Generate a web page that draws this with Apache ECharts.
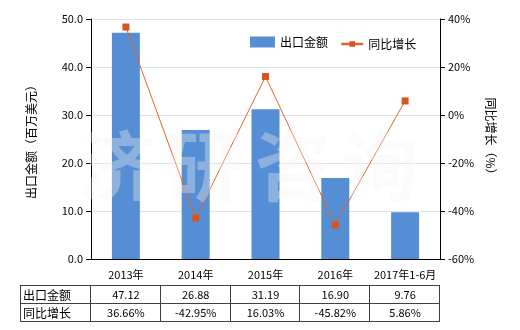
<!DOCTYPE html>
<html><head><meta charset="utf-8">
<script src="https://cdn.jsdelivr.net/npm/echarts@6/dist/echarts.min.js"></script>
<style>html,body{margin:0;padding:0;background:#fff}#c{width:520px;height:330px}</style>
</head><body><div id="c"></div>
<script>
const categories = ['2013年','2014年','2015年','2016年','2017年1-6月'];
const exportValues = [47.12, 26.88, 31.19, 16.90, 9.76];
const growthValues = [36.66, -42.95, 16.03, -45.82, 5.86];
const exportLabels = ['47.12','26.88','31.19','16.90','9.76'];
const growthLabels = ['36.66%','-42.95%','16.03%','-45.82%','5.86%'];
const seriesNames = ['出口金额','同比增长'];

const FONT = '"Noto Sans CJK SC", "Noto Sans", sans-serif';
const chart = echarts.init(document.getElementById('c'), null, {renderer:'canvas'});
const G = {left:91, right:80, top:19, bottom:71};
const W = 520, H = 330;
const plotL = G.left, plotR = W - G.right, plotB = H - G.bottom;
const colW = (plotR - plotL) / categories.length;
const tTop = 285, rowH = 18, tLeft = 20;

const graphics = [];
// watermark
const wmX = [117, 203, 293, 380];
['济','研','咨','询'].forEach((ch,i)=>{
  graphics.push({type:'text', x: wmX[i], y: 166, z: 10, silent:true,
    style:{text:ch, font:'bold 76px "Noto Sans CJK SC"', fill:'rgba(243,243,243,0.35)',
      textAlign:'center', textVerticalAlign:'middle'}});
});
// table
const lineStyle = {stroke:'#404040', lineWidth:1};
const rows = [[seriesNames[0], exportLabels],[seriesNames[1], growthLabels]];
for (let r=0;r<=2;r++){
  graphics.push({type:'line', shape:{x1:tLeft, y1:tTop+r*rowH+0.5, x2:plotR, y2:tTop+r*rowH+0.5}, style:lineStyle});
}
graphics.push({type:'line', shape:{x1:tLeft+0.5, y1:tTop, x2:tLeft+0.5, y2:tTop+2*rowH}, style:lineStyle});
for (let c=0;c<=categories.length;c++){
  const x = Math.round(plotL + c*colW) - 0.5;
  graphics.push({type:'line', shape:{x1:x, y1:tTop, x2:x, y2:tTop+2*rowH}, style:lineStyle});
}
rows.forEach((row,r)=>{
  const cy = tTop + r*rowH + rowH/2 + 1;
  graphics.push({type:'text', x: tLeft+3, y: cy,
    style:{text:row[0], font:'12px '+FONT, fill:'#000', textVerticalAlign:'middle'}});
  row[1].forEach((t,c)=>{
    graphics.push({type:'text', x: plotL + (c+0.5)*colW, y: cy,
      style:{text:t, font:'11px '+FONT, fill:'#000', textAlign:'center', textVerticalAlign:'middle'}});
  });
});

chart.setOption({
  animation:false,
  textStyle:{fontFamily:FONT},
  grid:G,
  legend:[{
    top:31, left:245, itemWidth:25, itemHeight:11,
    textStyle:{fontSize:12, color:'#000', fontFamily:FONT},
    data:[{name:seriesNames[0], icon:'rect'}]
  },{
    top:33, left:335, itemWidth:22, itemHeight:7,
    lineStyle:{width:2.5},
    textStyle:{fontSize:12, color:'#000', fontFamily:FONT},
    data:[{name:seriesNames[1]}]
  }],
  xAxis:{
    type:'category', data:categories,
    axisLine:{lineStyle:{color:'#000'}},
    axisTick:{alignWithLabel:true, length:4, lineStyle:{color:'#000'}},
    axisLabel:{color:'#000', fontSize:11, margin:10, interval:0}
  },
  yAxis:[{
    type:'value', min:0, max:50, interval:10,
    name:'出口金额（百万美元）', nameLocation:'middle', nameGap:54,
    nameTextStyle:{fontSize:12, color:'#000'},
    axisLine:{show:true, lineStyle:{color:'#000'}},
    axisTick:{show:true, length:5, lineStyle:{color:'#000'}},
    axisLabel:{color:'#000', fontSize:11, formatter:v=>v.toFixed(1)},
    splitLine:{lineStyle:{color:'#e3e3e3'}}
  },{
    type:'value', min:-60, max:40, interval:20,
    name:'同比增长（%）', nameLocation:'middle', nameGap:43, nameRotate:-90,
    nameTextStyle:{fontSize:12, color:'#000'},
    axisLine:{show:true, lineStyle:{color:'#000'}},
    axisTick:{show:true, length:5, lineStyle:{color:'#000'}},
    axisLabel:{color:'#000', fontSize:11, formatter:'{value}%'},
    splitLine:{show:false}
  }],
  series:[{
    name:seriesNames[0], type:'bar', data:exportValues, barWidth:28,
    itemStyle:{color:'#558ed5'}
  },{
    name:seriesNames[1], type:'line', yAxisIndex:1, data:growthValues,
    symbol:'rect', symbolSize:7, showAllSymbol:true,
    lineStyle:{color:'#e0642c', width:1},
    itemStyle:{color:'#d9531e'}
  }],
  graphic:graphics
});
</script></body></html>
